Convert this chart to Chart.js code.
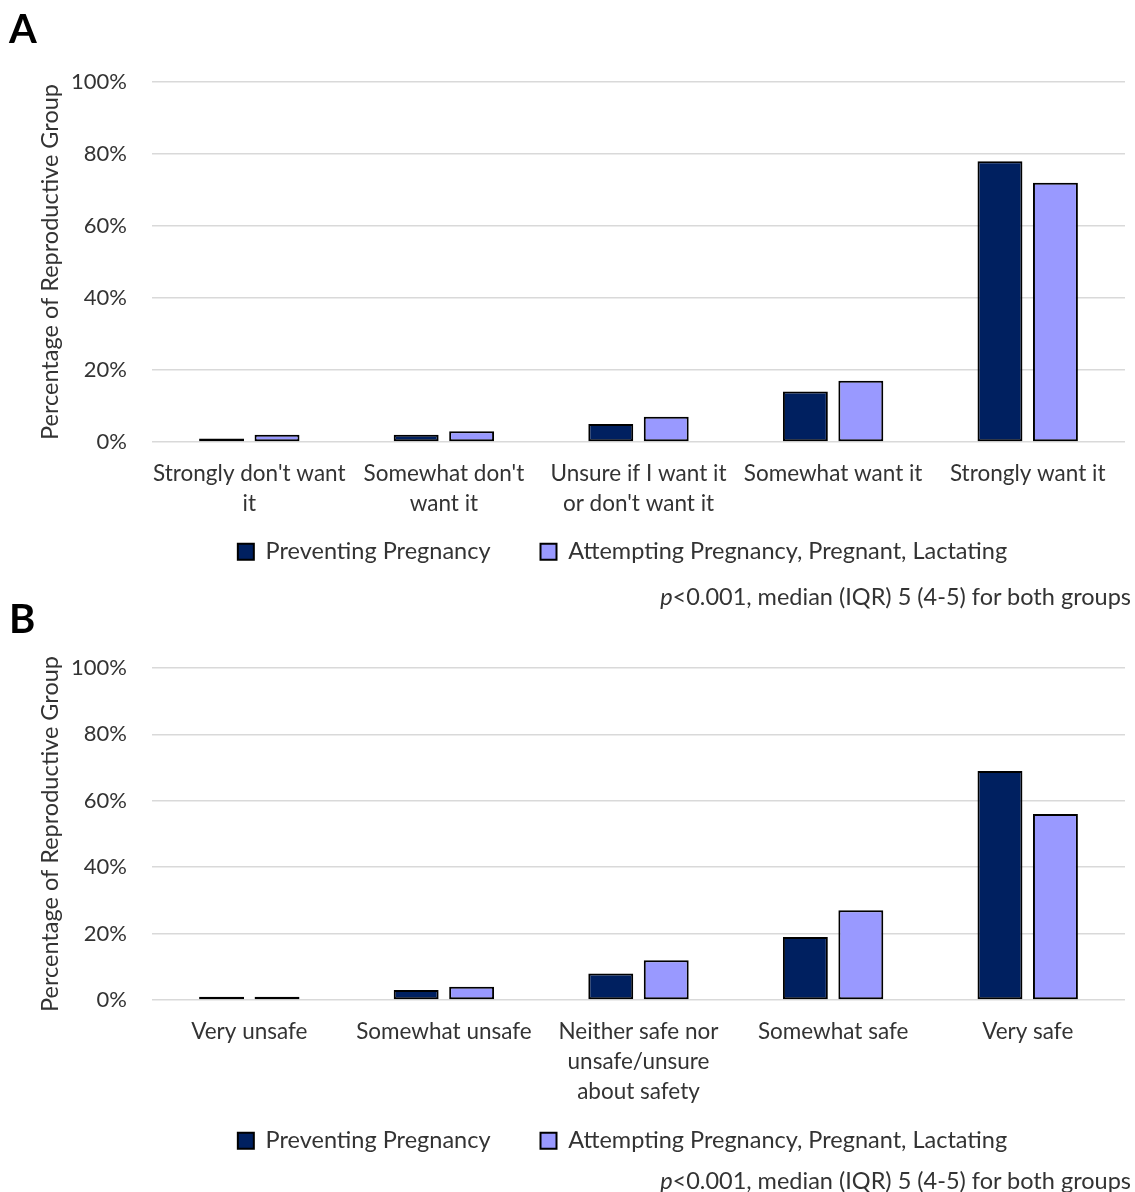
<!DOCTYPE html>
<html><head><meta charset="utf-8">
<script src="https://cdn.jsdelivr.net/npm/chart.js@4.4.0/dist/chart.umd.min.js"></script>
<style>
body{margin:0;background:#fff;width:1135px;height:1192px;position:relative;overflow:hidden;font-family:Lato,sans-serif;}
.panel{position:absolute;left:9px;font-weight:bold;font-size:40px;line-height:40px;color:#000;z-index:3}
canvas{position:absolute;left:0}
.note{position:absolute;right:4px;font-size:23.5px;line-height:28px;color:#333;z-index:3;white-space:nowrap}
</style></head><body>
<div class="panel" style="top:8px">A</div>
<div class="panel" style="top:598px">B</div>
<canvas id="ca" width="1135" height="616" style="top:0px;z-index:1"></canvas>
<canvas id="cb" width="1135" height="618" style="top:586px;z-index:2"></canvas>
<div class="note" style="top:582px"><i>p</i>&lt;0.001, median (IQR) 5 (4-5) for both groups</div>
<div class="note" style="top:1166px"><i>p</i>&lt;0.001, median (IQR) 5 (4-5) for both groups</div>
<script>
const categoriesA = [["Strongly don't want","it"],["Somewhat don't","want it"],["Unsure if I want it","or don't want it"],"Somewhat want it","Strongly want it"];
const preventingA = [1, 2, 5, 14, 78];
const attemptingA = [2, 3, 7, 17, 72];
const categoriesB = ["Very unsafe","Somewhat unsafe",["Neither safe nor","unsafe/unsure","about safety"],"Somewhat safe","Very safe"];
const preventingB = [1, 3, 8, 19, 69];
const attemptingB = [1, 4, 12, 27, 56];
const seriesNames = ["Preventing Pregnancy","Attempting Pregnancy, Pregnant, Lactating"];
const yTicks = [0, 20, 40, 60, 80, 100];
const yTitle = "Percentage of Reproductive Group";

Chart.defaults.font.family = 'Lato';
Chart.defaults.color = '#333';

function makeChart(id, cats, prev, att, xh, legendTop){
  const placeLegend = {
    id:'placeLegend',
    afterLayout(chart){
      const lg = chart.legend; const h = lg.height;
      lg.left -= 16; lg.right -= 16;
      lg.top = legendTop; lg.bottom = legendTop + h;
    }
  };
  return new Chart(document.getElementById(id), {
    type:'bar',
    data:{labels:cats, datasets:[
      {label:seriesNames[0], data:prev, backgroundColor:'#002060', borderColor:'#000', borderWidth:2, borderSkipped:false, categoryPercentage:0.57, barPercentage:0.81},
      {label:seriesNames[1], data:att, backgroundColor:'#9999FF', borderColor:'#000', borderWidth:2, borderSkipped:false, categoryPercentage:0.57, barPercentage:0.81}
    ]},
    options:{
      responsive:false, animation:false,
      layout:{padding:{top:82,left:33,right:10,bottom:0}},
      plugins:{
        legend:{position:'bottom', fullSize:false, labels:{boxWidth:16, boxHeight:16, padding:50, font:{size:23.5}, color:'#333'}},
        tooltip:{enabled:false}
      },
      scales:{
        x:{grid:{display:false}, border:{display:false},
           ticks:{padding:9, maxRotation:0, minRotation:0, autoSkip:false, font:{size:22.5, lineHeight:1.33}, color:'#333'},
           afterFit:s=>{s.height = xh;}},
        y:{min:0, max:100,
           grid:{color:'#d9d9d9', lineWidth:1.5, drawTicks:false}, border:{display:false},
           afterBuildTicks:s=>{s.ticks = yTicks.map(v=>({value:v}));},
           ticks:{padding:25, callback:v=>v+'%', font:{size:22}, color:'#333'},
           title:{display:true, text:yTitle, font:{size:23.5}, color:'#333', padding:{top:3,bottom:0}},
           afterFit:s=>{s.width = 119;}}
      }
    },
    plugins:[placeLegend]
  });
}
makeChart('ca', categoriesA, preventingA, attemptingA, 90.5, 490);
makeChart('cb', categoriesB, preventingB, attemptingB, 120.5, 493);
</script>
</body></html>
